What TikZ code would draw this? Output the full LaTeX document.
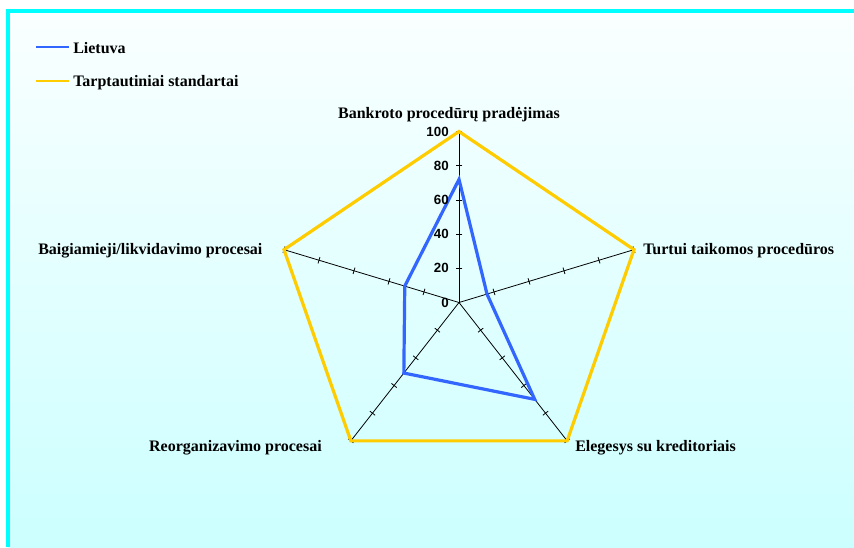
\documentclass[tikz,border=0pt]{standalone}
\usepackage{fontspec}
\setmainfont{Liberation Serif}
\setsansfont{Liberation Sans}
\usetikzlibrary{calc}
\definecolor{bgtop}{RGB}{250,255,255}
\definecolor{bgbot}{RGB}{204,255,255}
\definecolor{framecyan}{RGB}{0,255,255}
\definecolor{ltblue}{RGB}{51,102,255}
\definecolor{stdyellow}{RGB}{255,204,0}
\begin{document}
\begin{tikzpicture}[x=0.75pt,y=-0.75pt,
  catlabel/.style={font=\bfseries\fontsize{12}{14}\selectfont, inner sep=0pt},
  vallabel/.style={font=\sffamily\bfseries\fontsize{10}{12}\selectfont, inner sep=0pt, anchor=east},
  axisline/.style={black, line width=0.6pt},
  tickline/.style={black, line width=0.6pt},
  stdline/.style={stdyellow, line width=2.4pt},
  ltline/.style={ltblue, line width=2.4pt},
  legline/.style={line width=2.2pt},
]
\useasboundingbox (0,0) rectangle (854,547);
\fill[white] (0,0) rectangle (854,547);
\shade[top color=bgtop, bottom color=bgbot] (8,11) rectangle (854,547);
\draw[framecyan, line width=2.4pt] (8,547) -- (8,11) -- (854,11);

\begin{scope}[shift={(344.25pt,-226.875pt)}, x=138pt, y=128.25pt]
  \coordinate (O) at (0,0);
  \foreach \i/\a in {1/0,2/72,3/144,4/216,5/288}
    \coordinate (v\i) at ({sin(\a)},{cos(\a)});
  \foreach \i in {1,...,5}
    \draw[axisline] (O) -- (v\i);
  \foreach \i in {1,...,5}
    \foreach \t in {0.2,0.4,0.6,0.8,1.0} {
      \coordinate (tk) at ($(O)!\t!(v\i)$);
      \draw[tickline] ($(tk)!2.5pt!90:(O)$) -- ($(tk)!2.5pt!-90:(O)$);
    }
  \draw[stdline] (v1) -- (v2) -- (v3) -- (v4) -- (v5) -- cycle;
  \coordinate (b1) at ($(O)!0.72!(v1)$);
  \coordinate (b2) at ($(O)!0.16!(v2)$);
  \coordinate (b3) at ($(O)!0.70!(v3)$);
  \coordinate (b4) at ($(O)!0.51!(v4)$);
  \coordinate (b5) at ($(O)!0.31!(v5)$);
  \draw[ltline] (b1) -- (b2) -- (b3) -- (b4) -- (b5) -- cycle;
\end{scope}

\foreach \v in {0,20,40,60,80,100}
  \node[vallabel] (val\v) at (449,{302.5-1.71*\v}) {\v};

\node[catlabel, anchor=base] (c1) at (449,118) {Bankroto procedūrų pradėjimas};
\node[catlabel, anchor=base west] (c2) at (643,254) {Turtui taikomos procedūros};
\node[catlabel, anchor=base west] (c3) at (575,451.5) {Elegesys su kreditoriais};
\node[catlabel, anchor=base east] (c4) at (322,451.5) {Reorganizavimo procesai};
\node[catlabel, anchor=base west] (c5) at (38,254) {Baigiamieji/likvidavimo procesai};

\coordinate (l1a) at (36,47);
\coordinate (l1b) at (69,47);
\draw[legline, ltblue] (l1a) -- (l1b);
\node[catlabel, anchor=base west] (lg1) at (73,53) {Lietuva};
\coordinate (l2a) at (36,81);
\coordinate (l2b) at (69,81);
\draw[legline, stdyellow] (l2a) -- (l2b);
\node[catlabel, anchor=base west] (lg2) at (73,86) {Tarptautiniai standartai};
\end{tikzpicture}
\end{document}
